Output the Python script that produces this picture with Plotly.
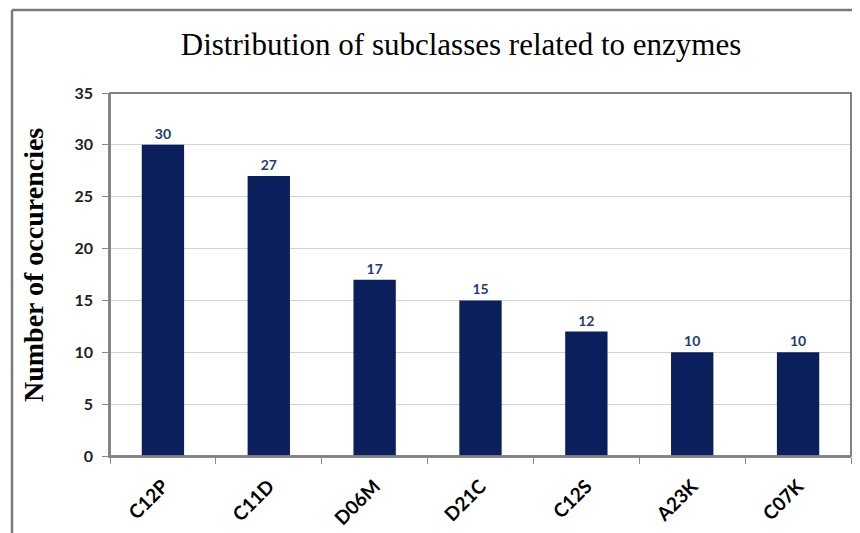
import plotly.graph_objects as go

categories = ["C12P", "C11D", "D06M", "D21C", "C12S", "A23K", "C07K"]
counts = [30, 27, 17, 15, 12, 10, 10]
y_ticks = [0, 5, 10, 15, 20, 25, 30, 35]

W, H = 860, 533
OFF = 8  # page offset of the rendered figure
L, T = 110 - OFF, 93 - OFF
R = W - (851 - OFF)
B = H - (456 - OFF)
pw, ph = W - L - R, H - T - B

def px(x):
    return (x - OFF - L) / pw

def py(y):
    return (H - B - (y - OFF)) / ph

fig = go.Figure()
fig.add_trace(go.Bar(
    x=categories, y=counts,
    marker=dict(color="#0B1F5C", line=dict(width=0)),
    width=0.4,
    text=[str(v) for v in counts],
    textposition="outside",
    textfont=dict(family="Lato", size=14, color="#1F3B73", weight="bold"),
    cliponaxis=False,
))

frame = dict(color="#7A7A7A", width=2.5)

fig.update_layout(
    width=W, height=H,
    margin=dict(l=L, r=R, t=T, b=B, autoexpand=False),
    paper_bgcolor="white", plot_bgcolor="white",
    showlegend=False,
    title=dict(
        text="Distribution of subclasses related to enzymes",
        font=dict(family="Liberation Serif", size=31, color="black"),
        x=(461 - OFF) / W, xanchor="center", xref="container",
        y=1 - (44 - OFF) / H, yanchor="middle", yref="container",
    ),
    xaxis=dict(
        tickangle=-45,
        tickfont=dict(family="Lato", size=19, color="black", weight="bold"),
        showline=True, linecolor="#8A8A8A", linewidth=1.5,
        ticks="outside", tickson="boundaries", ticklen=6, tickcolor="#8A8A8A",
        ticklabelstandoff=10,
        showgrid=False, automargin=False,
    ),
    yaxis=dict(
        range=[0, 35], tickvals=y_ticks,
        tickfont=dict(family="Lato", size=16, color="#222222", weight="bold"),
        showline=True, linecolor="#8A8A8A", linewidth=1.5,
        ticks="outside", ticklen=6, tickcolor="#8A8A8A",
        ticklabelstandoff=6,
        showgrid=True, gridcolor="#D3D3D3", gridwidth=1,
        zeroline=False, automargin=False,
    ),
    shapes=[
        dict(type="rect", xref="paper", yref="paper",
             x0=0, x1=1, y0=0, y1=1,
             line=dict(color="#5A5A5A", width=1.5), layer="above"),
        dict(type="line", xref="paper", yref="paper",
             x0=0, x1=0, y0=0, y1=1,
             line=dict(color="#8A8A8A", width=1.5), layer="above"),
        dict(type="line", xref="paper", yref="paper",
             x0=0, x1=1, y0=0, y1=0,
             line=dict(color="#8A8A8A", width=1.5), layer="above"),
        dict(type="line", xref="paper", yref="paper",
             x0=px(12), x1=px(875), y0=py(10), y1=py(10),
             line=frame, layer="above"),
        dict(type="line", xref="paper", yref="paper",
             x0=px(12), x1=px(12), y0=py(10), y1=py(560),
             line=frame, layer="above"),
    ],
    annotations=[
        dict(text="<b>Number of occurencies</b>", textangle=-90,
             xref="paper", yref="paper", x=px(33), y=py(265),
             xanchor="center", yanchor="middle", showarrow=False,
             font=dict(family="Liberation Serif", size=28, color="black")),
    ],
)

fig.write_html("out.html")
